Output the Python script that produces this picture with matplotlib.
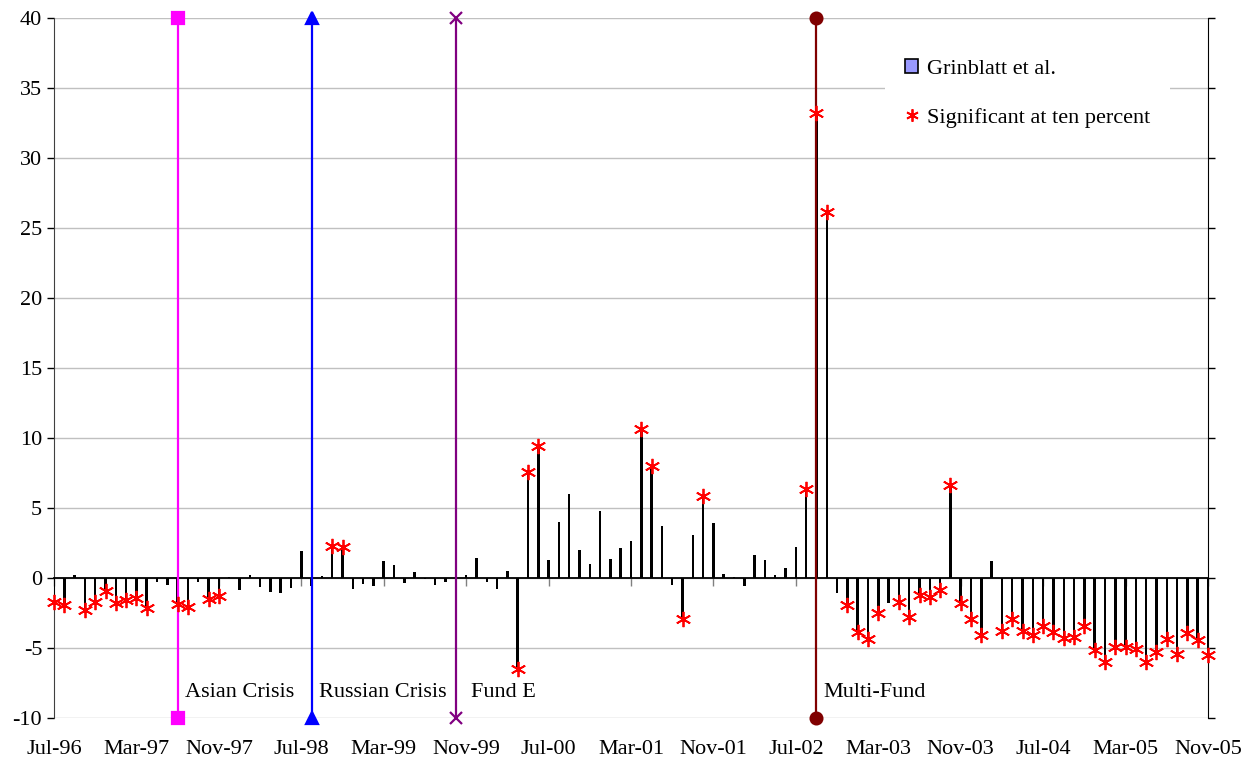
import numpy as np
import matplotlib
matplotlib.use("Agg")
import matplotlib.pyplot as plt
from matplotlib.patches import Patch
from matplotlib.lines import Line2D

plt.rcParams["font.family"] = ["Liberation Serif", "DejaVu Serif"]
plt.rcParams["axes.unicode_minus"] = False

# ----------------------------------------------------------------------
# Data: monthly values, Jul-96 .. Nov-05 (113 months)
# ----------------------------------------------------------------------
values = [
    -1.7, -1.9, 0.25, -2.3, -1.7, -0.9, -1.75, -1.6, -1.4, -2.15,
    -0.3, -0.5, -1.85, -2.1, -0.3, -1.5, -1.3, 0.05, -0.85, 0.25,
    -0.65, -1.0, -1.05, -0.7, 1.9, -0.6, 0.12, 2.3, 2.2, -0.75,
    -0.4, -0.55, 1.2, 0.95, -0.35, 0.4, -0.08, -0.5, -0.3, 0.8,
    0.18, 1.43, -0.25, -0.75, 0.5, -6.5, 7.6, 9.4, 1.3, 4.0,
    6.0, 2.0, 1.0, 4.8, 1.35, 2.15, 2.65, 10.65, 8.0, 3.75,
    -0.5, -2.9, 3.05, 5.85, 3.9, 0.3, 0.1, -0.55, 1.65, 1.3,
    0.25, 0.7, 2.2, 6.35, 33.2, 26.15, -1.1, -1.9, -3.85, -4.35,
    -2.5, -1.8, -1.7, -2.8, -1.2, -1.35, -0.85, 6.65, -1.8, -2.9,
    -4.05, 1.2, -3.8, -2.9, -3.75, -4.05, -3.45, -3.85, -4.3, -4.2,
    -3.45, -5.15, -6.0, -4.95, -4.95, -5.1, -6.0, -5.3, -4.35, -5.45,
    -3.9, -4.4, -5.5,
]

# months whose value is significant at ten percent
significant = (
    [0, 1, 3, 4, 5, 6, 7, 8, 9, 12, 13, 15, 16, 27, 28, 45, 46, 47,
     57, 58, 61, 63, 73, 74, 75, 77, 78, 79, 80, 82, 83, 84, 85, 86,
     87, 88, 89, 90] + list(range(92, 113))
)

tick_labels = ["Jul-96", "Mar-97", "Nov-97", "Jul-98", "Mar-99", "Nov-99",
               "Jul-00", "Mar-01", "Nov-01", "Jul-02", "Mar-03", "Nov-03",
               "Jul-04", "Mar-05", "Nov-05"]

# events: month index, label, colour, marker
event_idx = [12, 25, 39, 74]
event_names = ["Asian Crisis", "Russian Crisis", "Fund E", "Multi-Fund"]
event_colors = ["#ff00ff", "#0000ff", "#800080", "#800000"]
event_markers = ["s", "^", "x", "o"]
event_text_offset = [0.7, 0.7, 1.5, 0.7]

Y_MIN, Y_MAX = -10, 40
FS = 16

x = np.arange(len(values))
vals = np.array(values)
sig = np.array(significant)

fig = plt.figure(figsize=(12.48, 7.62), dpi=100)
ax = fig.add_axes([54 / 1248, 1 - 718 / 762, 1154 / 1248, 700 / 762])

ax.bar(x, vals, width=0.24, color="black", zorder=3)

for i, name, c, m, off in zip(event_idx, event_names, event_colors,
                               event_markers, event_text_offset):
    ax.plot([i, i], [Y_MIN, Y_MAX], color=c, lw=1.6, marker=m,
            markersize=8.5, markeredgewidth=1.6, clip_on=False, zorder=5)
    ax.text(i + off, -8.2, name, fontsize=FS, va="center", ha="left",
            zorder=6)

ax.plot(x[sig], vals[sig], linestyle="none", marker=(6, 2, 0),
        markersize=11, markeredgewidth=1.3, color="#ff0000", zorder=7,
        clip_on=False)

ax.set_xlim(0, len(values) - 1)
ax.set_ylim(Y_MIN, Y_MAX)
ax.set_yticks(np.arange(Y_MIN, Y_MAX + 1, 5))
ax.yaxis.grid(True, color="#c0c0c0", lw=1.0, zorder=0)
ax.set_axisbelow(True)

ax.set_xticks(np.arange(0, len(values), 8))
ax.set_xticklabels(tick_labels)

# category axis crosses at zero
ax.spines["bottom"].set_position(("data", 0))
ax.spines["bottom"].set_color("black")
ax.spines["bottom"].set_linewidth(1.3)
ax.spines["bottom"].set_zorder(4)
ax.spines["top"].set_visible(False)
ax.spines["left"].set_color("#404040")
ax.spines["right"].set_color("black")
ax.tick_params(axis="x", direction="out", length=6, width=1,
               color="#808080", pad=111, labelsize=FS)
ax.tick_params(axis="y", direction="out", length=5, width=1,
               labelsize=FS, right=True, labelright=False)

handles = [Patch(facecolor="#9999ff", edgecolor="black", lw=1.2),
           Line2D([], [], linestyle="none", marker=(6, 2, 0), markersize=9,
                  markeredgewidth=1.3, color="#ff0000")]
leg = ax.legend(handles, ["Grinblatt et al.", "Significant at ten percent"],
                loc="upper left", bbox_to_anchor=(0.72, 0.97),
                fontsize=FS, frameon=True, fancybox=False, framealpha=1,
                edgecolor="none", facecolor="white", handlelength=0.6,
                handleheight=0.6, handletextpad=0.4, labelspacing=1.3,
                borderpad=0.9, borderaxespad=0)
leg.set_zorder(8)

fig.savefig("out.png", dpi=100)
